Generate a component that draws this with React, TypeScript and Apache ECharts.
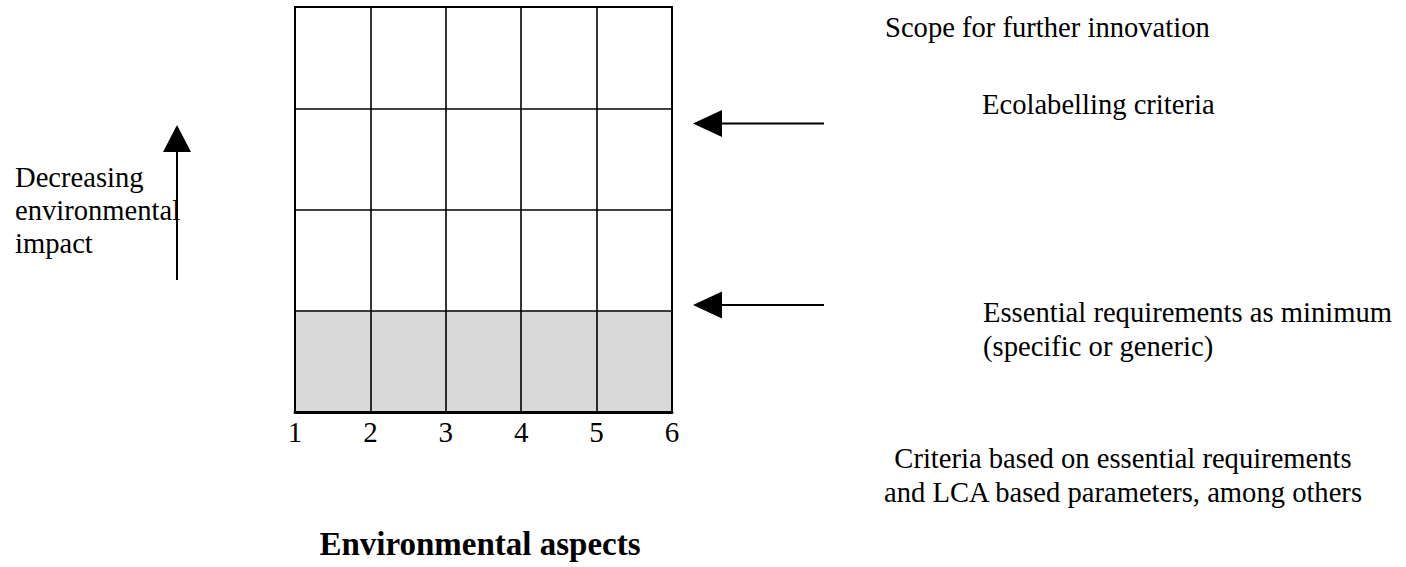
import React, { useEffect, useRef } from "react";
import * as echarts from "echarts";

// ---- data ----
const aspectTicks = [1, 2, 3, 4, 5, 6];
const levelCount = 4;
const shadedX = [1, 6];
const shadedLevel = [1, 1];
const axisTitle = "Environmental aspects";
const sideTitle = ["Decreasing", "environmental", "impact"];
const scopeText = "Scope for further innovation";
const ecoText = "Ecolabelling criteria";
const essentialText = ["Essential requirements as minimum", "(specific or generic)"];
const criteriaText = ["Criteria based on essential requirements", "and LCA based parameters, among others"];

const FONT = "Liberation Serif";
const FS = 28.6;

function txt(text: string, x: number, y: number, align: string = "left", extra: any = {}) {
  return {
    type: "text",
    x,
    y,
    style: {
      text,
      fill: "#000",
      fontFamily: FONT,
      fontSize: extra.size || FS,
      fontWeight: extra.bold ? "bold" : "normal",
      textAlign: align,
      textVerticalAlign: "middle",
    },
  };
}

export default function App() {
  const ref = useRef<HTMLDivElement>(null);
  useEffect(() => {
    const chart = echarts.init(ref.current!, undefined, { renderer: "svg" });
    const graphics: any[] = [];
    // vertical arrow
    graphics.push({ type: "line", shape: { x1: 177, y1: 280, x2: 177, y2: 150 }, style: { stroke: "#000", lineWidth: 2 } });
    graphics.push({ type: "polygon", shape: { points: [[163, 152], [191, 152], [177, 125]] }, style: { fill: "#000" } });
    // horizontal arrows
    [123.5, 305].forEach((y) => {
      graphics.push({ type: "line", shape: { x1: 720, y1: y, x2: 824, y2: y }, style: { stroke: "#000", lineWidth: 2 } });
      graphics.push({ type: "polygon", shape: { points: [[693, y], [722, y - 13.5], [722, y + 13.5]] }, style: { fill: "#000" } });
    });
    // side texts
    sideTitle.forEach((t, i) => graphics.push(txt(t, 15, 177 + i * 33)));
    graphics.push(txt(scopeText, 885, 27));
    graphics.push(txt(ecoText, 982, 104));
    essentialText.forEach((t, i) => graphics.push(txt(t, 983, 312 + i * 34)));
    criteriaText.forEach((t, i) => graphics.push(txt(t, 1123, 458 + i * 34, "center")));
    graphics.push(txt(axisTitle, 480, 544, "center", { bold: true, size: 33 }));

    chart.setOption({
      animation: false,
      grid: { left: 295, right: 734, top: 7, bottom: 155, show: true, borderColor: "#000", borderWidth: 2, z: 10 },
      xAxis: {
        type: "value",
        min: aspectTicks[0],
        max: aspectTicks[aspectTicks.length - 1],
        interval: 1,
        z: 5,
        axisLine: { show: true, lineStyle: { color: "#000", width: 3 } },
        axisTick: { show: false },
        splitLine: { show: true, lineStyle: { color: "#000", width: 1.6 } },
        axisLabel: { color: "#000", fontSize: 29, fontFamily: FONT, margin: 5 },
      },
      yAxis: {
        type: "value",
        min: 0,
        max: levelCount,
        interval: 1,
        z: 5,
        axisLine: { show: false },
        axisTick: { show: false },
        axisLabel: { show: false },
        splitLine: { show: true, lineStyle: { color: "#000", width: 1.6 } },
      },
      series: [
        {
          type: "line",
          data: shadedX.map((x, i) => [x, shadedLevel[i]]),
          symbol: "none",
          lineStyle: { width: 0 },
          areaStyle: { color: "#d9d9d9", opacity: 1 },
          silent: true,
        },
      ],
      graphic: graphics,
    });
    return () => chart.dispose();
  }, []);
  return <div ref={ref} style={{ position: "fixed", left: 0, top: 0, width: 1406, height: 567, background: "#fff" }} />;
}
